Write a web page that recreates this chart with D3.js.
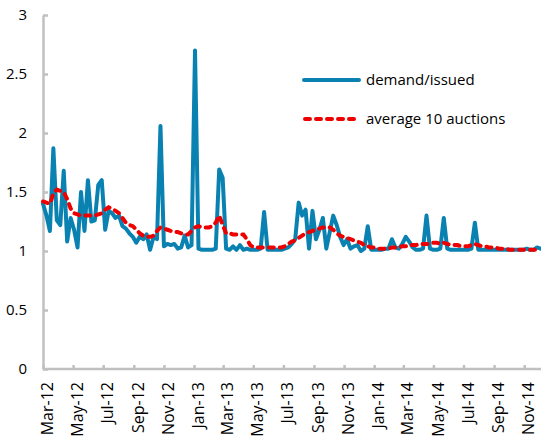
<!DOCTYPE html>
<html>
<head>
<meta charset="utf-8">
<script src="https://cdn.jsdelivr.net/npm/d3@7"></script>
<style>
  body { margin: 0; background: #fff; }
  text { font-family: "Open Sans", "Noto Sans", sans-serif; fill: #000; }
</style>
</head>
<body>
<div class="chart"></div>
<script>
var width = 541;
var height = 442;

// weekly auctions starting 1 Mar 2012
var firstAuction = new Date(2012, 2, 1);

var demand = [
  1.40, 1.30, 1.17, 1.87, 1.26, 1.22, 1.68, 1.08, 1.28, 1.18,
  1.03, 1.50, 1.17, 1.60, 1.25, 1.26, 1.56, 1.60, 1.18, 1.34,
  1.32, 1.28, 1.30, 1.21, 1.19, 1.15, 1.12, 1.07, 1.12, 1.10,
  1.14, 1.01, 1.12, 1.10, 2.06, 1.04, 1.06, 1.05, 1.06, 1.02,
  1.03, 1.13, 1.03, 1.05, 2.70, 1.02, 1.01, 1.01, 1.01, 1.01,
  1.02, 1.69, 1.62, 1.02, 1.01, 1.04, 1.01, 1.05, 1.01, 1.02,
  1.01, 1.01, 1.01, 1.02, 1.33, 1.01, 1.01, 1.01, 1.01, 1.01,
  1.02, 1.03, 1.06, 1.10, 1.41, 1.30, 1.35, 1.02, 1.34, 1.10,
  1.18, 1.28, 1.02, 1.16, 1.30, 1.22, 1.12, 1.05, 1.10, 1.02,
  1.04, 1.05, 1.00, 1.02, 1.21, 1.01, 1.01, 1.01, 1.01, 1.02,
  1.02, 1.10, 1.03, 1.02, 1.06, 1.12, 1.08, 1.03, 1.01, 1.01,
  1.02, 1.30, 1.02, 1.01, 1.01, 1.02, 1.28, 1.02, 1.01, 1.01,
  1.01, 1.01, 1.01, 1.01, 1.02, 1.24, 1.01, 1.01, 1.01, 1.01,
  1.01, 1.01, 1.01, 1.01, 1.01, 1.01, 1.01, 1.01, 1.01, 1.01,
  1.02, 1.01, 1.01, 1.03, 1.02
];

var average10 = [
  1.42, 1.41, 1.40, 1.49, 1.52, 1.51, 1.50, 1.44, 1.36, 1.32,
  1.31, 1.30, 1.30, 1.30, 1.30, 1.30, 1.31, 1.32, 1.35, 1.37,
  1.36, 1.34, 1.32, 1.28, 1.24, 1.22, 1.21, 1.18, 1.15, 1.13,
  1.12, 1.12, 1.13, 1.17, 1.20, 1.19, 1.18, 1.17, 1.16, 1.16,
  1.15, 1.14, 1.14, 1.17, 1.20, 1.21, 1.20, 1.20, 1.20, 1.21,
  1.24, 1.30, 1.22, 1.15, 1.15, 1.14, 1.14, 1.14, 1.14, 1.10,
  1.05, 1.03, 1.03, 1.03, 1.03, 1.03, 1.03, 1.03, 1.03, 1.03,
  1.04, 1.06, 1.08, 1.09, 1.11, 1.13, 1.15, 1.16, 1.17, 1.18,
  1.19, 1.20, 1.20, 1.20, 1.18, 1.15, 1.13, 1.12, 1.11, 1.10,
  1.09, 1.08, 1.07, 1.05, 1.04, 1.03, 1.03, 1.02, 1.02, 1.02,
  1.02, 1.03, 1.03, 1.03, 1.04, 1.04, 1.05, 1.05, 1.05, 1.06,
  1.06, 1.06, 1.06, 1.07, 1.07, 1.06, 1.07, 1.06, 1.05, 1.05,
  1.05, 1.04, 1.04, 1.04, 1.05, 1.06, 1.05, 1.04, 1.04, 1.03,
  1.03, 1.03, 1.02, 1.02, 1.02, 1.01, 1.01, 1.01, 1.01, 1.01,
  1.01, 1.01, 1.01, 1.01, 1.01
];

var yTicks = [0, 0.5, 1, 1.5, 2, 2.5, 3];
var seriesNames = ['demand/issued', 'average 10 auctions'];

var dates = demand.map(function(d, i){
  return d3.timeDay.offset(firstAuction, 7 * i);
});

var svg = d3.select('.chart')
  .append('svg')
  .attr('width', width)
  .attr('height', height);

var x = d3.scaleTime()
  .domain([firstAuction, new Date(2014, 11, 5)])
  .range([43, 541]);

var y = d3.scaleLinear()
  .domain([0, 3])
  .range([369, 15]);

// y axis
var yAxis = svg.append('g')
  .attr('transform', 'translate(43,0)')
  .call(d3.axisLeft(y).tickValues(yTicks).tickSizeInner(-5).tickSizeOuter(0)
    .tickPadding(16).tickFormat(d3.format('')));
yAxis.select('.domain').attr('stroke', '#c0c0c0').attr('stroke-width', 2.5);
yAxis.selectAll('.tick line').attr('stroke', '#c0c0c0').attr('stroke-width', 2.5);
yAxis.selectAll('.tick text').attr('font-size', 15).attr('font-family', '"Open Sans", sans-serif');

// x axis
var xAxis = svg.append('g')
  .attr('transform', 'translate(0,369)')
  .call(d3.axisBottom(x).ticks(d3.timeMonth.every(2)).tickFormat(d3.timeFormat('%b-%y'))
    .tickSizeInner(-4).tickSizeOuter(0));
xAxis.select('.domain').attr('stroke', '#c0c0c0').attr('stroke-width', 2.5)
  .attr('d', 'M43,0H541');
xAxis.selectAll('.tick line').attr('stroke', '#c0c0c0').attr('stroke-width', 2.5);
xAxis.selectAll('.tick text')
  .attr('font-size', 16)
  .attr('font-family', '"Open Sans", sans-serif')
  .attr('text-anchor', 'end')
  .attr('transform', 'translate(4,13) rotate(-90)')
  .attr('x', 0).attr('y', 0).attr('dy', '0.35em');

var line = d3.line()
  .x(function(d, i){ return x(dates[i]) })
  .y(function(d){ return y(d) });

svg.append('path')
  .datum(demand)
  .attr('fill', 'none')
  .attr('stroke', '#0a82b1')
  .attr('stroke-width', 4)
  .attr('stroke-linejoin', 'round')
  .attr('stroke-linecap', 'round')
  .attr('d', line);

svg.append('path')
  .datum(average10)
  .attr('fill', 'none')
  .attr('stroke', '#ee0000')
  .attr('stroke-width', 4)
  .attr('stroke-linecap', 'round')
  .attr('stroke-dasharray', '5,6')
  .attr('d', line);

// legend
var legend = svg.append('g');
legend.append('line')
  .attr('x1', 304).attr('x2', 359).attr('y1', 80).attr('y2', 80)
  .attr('stroke', '#0a82b1').attr('stroke-width', 4).attr('stroke-linecap', 'round');
legend.append('line')
  .attr('x1', 305).attr('x2', 359).attr('y1', 119).attr('y2', 119)
  .attr('stroke', '#ee0000').attr('stroke-width', 4).attr('stroke-linecap', 'round')
  .attr('stroke-dasharray', '5,6');
legend.selectAll('text.lab')
  .data(seriesNames)
  .enter().append('text')
  .attr('class', 'lab')
  .attr('x', 366)
  .attr('y', function(d, i){ return 80 + i * 39 })
  .attr('dy', '0.35em')
  .attr('font-size', 15)
  .text(function(d){ return d });
</script>
</body>
</html>
